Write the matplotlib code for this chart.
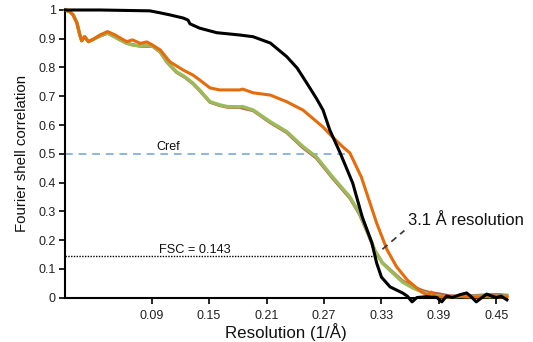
import matplotlib
matplotlib.use("Agg")
import matplotlib.pyplot as plt

plt.rcParams['font.family'] = ['Liberation Sans', 'DejaVu Sans']

# ---------------- data ----------------
black_x = [0.000, 0.036, 0.088, 0.099, 0.109, 0.123, 0.128, 0.130, 0.140, 0.158,
           0.182, 0.196, 0.214, 0.231, 0.242, 0.252, 0.262, 0.269, 0.276, 0.287,
           0.300, 0.310, 0.320, 0.325, 0.330, 0.339, 0.352, 0.357, 0.362, 0.367,
           0.377, 0.388, 0.393, 0.398, 0.404, 0.412, 0.419, 0.424, 0.429, 0.435,
           0.440, 0.445, 0.450, 0.455, 0.461]
black_y = [1.000, 1.000, 0.997, 0.990, 0.983, 0.972, 0.965, 0.952, 0.937, 0.921,
           0.913, 0.907, 0.885, 0.838, 0.798, 0.746, 0.693, 0.652, 0.583, 0.502,
           0.398, 0.280, 0.190, 0.120, 0.071, 0.037, 0.016, 0.005, -0.015, 0.000,
           0.003, 0.000, -0.015, 0.005, 0.000, 0.010, 0.016, 0.002, -0.015, 0.000,
           0.012, 0.005, 0.000, 0.005, -0.008]

orange_x = [0.000, 0.005, 0.008, 0.012, 0.015, 0.017, 0.020, 0.024, 0.029, 0.036,
            0.044, 0.052, 0.057, 0.064, 0.070, 0.078, 0.085, 0.091, 0.099, 0.109,
            0.123, 0.133, 0.140, 0.151, 0.161, 0.169, 0.182, 0.185, 0.196, 0.214,
            0.231, 0.248, 0.258, 0.269, 0.279, 0.290, 0.297, 0.309, 0.318, 0.325,
            0.336, 0.346, 0.357, 0.367, 0.372, 0.378, 0.382, 0.388, 0.398, 0.412,
            0.422, 0.433, 0.443, 0.453, 0.461]
orange_y = [1.000, 0.993, 0.983, 0.955, 0.913, 0.893, 0.907, 0.890, 0.898, 0.913,
            0.925, 0.913, 0.903, 0.890, 0.896, 0.884, 0.889, 0.878, 0.861, 0.820,
            0.791, 0.774, 0.757, 0.729, 0.722, 0.722, 0.722, 0.725, 0.712, 0.704,
            0.681, 0.652, 0.624, 0.593, 0.558, 0.523, 0.503, 0.419, 0.329, 0.259,
            0.165, 0.106, 0.061, 0.033, 0.019, 0.009, 0.019, 0.002, 0.002, 0.004,
            0.002, 0.002, 0.004, 0.002, 0.002]

green_x = [0.000, 0.005, 0.008, 0.012, 0.015, 0.017, 0.020, 0.024, 0.029, 0.036,
           0.044, 0.052, 0.057, 0.064, 0.070, 0.078, 0.085, 0.091, 0.099, 0.106,
           0.116, 0.125, 0.133, 0.140, 0.151, 0.161, 0.169, 0.182, 0.185, 0.196,
           0.214, 0.231, 0.248, 0.262, 0.279, 0.297, 0.307, 0.316, 0.323, 0.331,
           0.342, 0.352, 0.363, 0.373, 0.380, 0.391, 0.401, 0.412, 0.422, 0.433,
           0.443, 0.453, 0.461]
green_y = [1.000, 0.993, 0.983, 0.955, 0.913, 0.893, 0.907, 0.890, 0.898, 0.910,
           0.920, 0.906, 0.896, 0.885, 0.878, 0.875, 0.878, 0.875, 0.855, 0.820,
           0.785, 0.767, 0.746, 0.722, 0.681, 0.670, 0.664, 0.663, 0.664, 0.652,
           0.611, 0.577, 0.525, 0.489, 0.419, 0.350, 0.294, 0.224, 0.165, 0.120,
           0.085, 0.054, 0.033, 0.019, 0.012, 0.005, 0.002, 0.004, 0.004, 0.005,
           0.003, 0.005, 0.005]

red_x = [0.000, 0.005, 0.008, 0.012, 0.015, 0.017, 0.020, 0.024, 0.029, 0.036,
         0.044, 0.052, 0.064, 0.078, 0.091, 0.099, 0.106, 0.116, 0.125, 0.133,
         0.140, 0.151, 0.161, 0.169, 0.182, 0.196, 0.214, 0.231, 0.248, 0.262,
         0.279, 0.297, 0.307, 0.316, 0.323, 0.331, 0.342, 0.352, 0.363, 0.373,
         0.380, 0.391, 0.401, 0.412, 0.422, 0.433, 0.443, 0.453, 0.461]
red_y = [1.000, 0.993, 0.983, 0.955, 0.913, 0.893, 0.907, 0.890, 0.898, 0.909,
         0.919, 0.905, 0.884, 0.874, 0.874, 0.853, 0.818, 0.783, 0.765, 0.744,
         0.720, 0.679, 0.668, 0.662, 0.661, 0.650, 0.608, 0.574, 0.521, 0.485,
         0.415, 0.346, 0.290, 0.221, 0.164, 0.121, 0.088, 0.058, 0.038, 0.024,
         0.018, 0.012, 0.006, 0.005, 0.006, 0.008, 0.010, 0.010, 0.008]

xticks = [0.09, 0.15, 0.21, 0.27, 0.33, 0.39, 0.45]
yticks = [0, 0.1, 0.2, 0.3, 0.4, 0.5, 0.6, 0.7, 0.8, 0.9, 1]
ytick_labels = ['0', '0.1', '0.2', '0.3', '0.4', '0.5', '0.6', '0.7', '0.8',
                '0.9', '1']
cref_level = 0.5
cref_end = 0.297
fsc_level = 0.143
fsc_end = 0.325
res_pointer = [(0.331, 0.168), (0.354, 0.233)]

# ---------------- figure ----------------
fig = plt.figure(figsize=(5.33, 3.42), dpi=100)
ax = fig.add_axes([0.1228, 0.130, 0.8282, 0.8408])

lw = 2.2
ax.plot(red_x, red_y, color='#C0504D', lw=lw, clip_on=False, zorder=2)
ax.plot(green_x, green_y, color='#9BBB59', lw=lw + 0.3, clip_on=False, zorder=3)
ax.plot(orange_x, orange_y, color='#E46C0A', lw=lw, clip_on=False, zorder=4)
ax.plot(black_x, black_y, color='#000000', lw=lw, clip_on=False, zorder=5)

ax.plot([0, cref_end], [cref_level, cref_level], color='#8DB4E2', lw=1.4,
        dashes=(4, 3), zorder=1)
ax.plot([0, fsc_end], [fsc_level, fsc_level], color='#000000', lw=1.0,
        dashes=(1, 1), zorder=1)
ax.plot([p[0] for p in res_pointer], [p[1] for p in res_pointer],
        color='#333333', lw=1.2, dashes=(4, 3), zorder=6)

ax.text(0.107, 0.513, 'Cref', fontsize=9, ha='center', va='baseline',
        color='#111111')
ax.text(0.135, 0.155, 'FSC = 0.143', fontsize=9.2, ha='center', va='baseline',
        color='#111111')
ax.text(0.358, 0.252, '3.1 Å resolution', fontsize=12, ha='left', va='baseline',
        color='#111111')

ax.set_xlim(0, 0.461)
ax.set_ylim(0, 1)
ax.set_xticks(xticks)
ax.set_xticklabels([f'{t:.2f}' for t in xticks])
ax.set_yticks(yticks)
ax.set_yticklabels(ytick_labels)
ax.tick_params(axis='both', direction='out', length=4, width=1.2,
               labelsize=9, labelcolor='#222222', pad=3)
ax.tick_params(axis='x', pad=5)

for s in ['top', 'right']:
    ax.spines[s].set_visible(False)
for s in ['left', 'bottom']:
    ax.spines[s].set_linewidth(1.5)

ax.set_xlabel('Resolution (1/Å)', fontsize=12.2, color='#111111', labelpad=1)
ax.set_ylabel('Fourier shell correlation', fontsize=10.8, color='#111111',
              labelpad=7)

fig.savefig('out.png', dpi=100)
